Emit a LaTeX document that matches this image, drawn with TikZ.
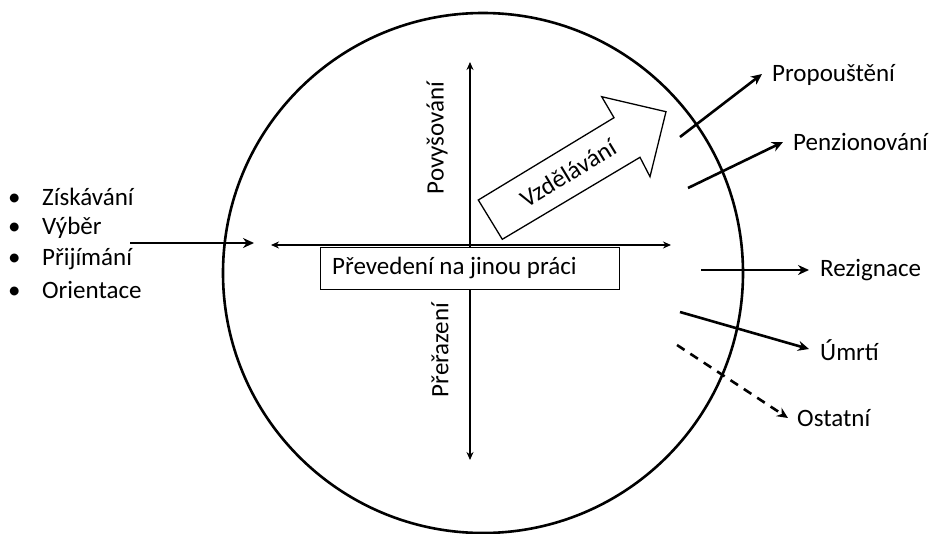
\documentclass[tikz,border=0pt]{standalone}
\usepackage{fontspec}
\setmainfont{Carlito}
\usetikzlibrary{arrows.meta}
\begin{document}
\begin{tikzpicture}[x=1pt,y=-1pt,
  txt/.style={inner sep=0pt,font=\fontsize{25}{27}\selectfont},
  lbl/.style={txt,anchor=west},
  thin/.style={line width=1.3pt,-{Stealth[length=8pt,width=7pt]}},
  thinboth/.style={line width=1.3pt,{Stealth[length=8pt,width=7pt]}-{Stealth[length=8pt,width=7pt]}},
  thick/.style={line width=2.6pt,-{Stealth[length=11pt,width=10pt]}},
  thickdash/.style={line width=2.6pt,dash pattern=on 9pt off 7pt,-{Stealth[length=11pt,width=10pt]}}]
\useasboundingbox (0,0) rectangle (932,533);
% circle
\draw[line width=2.6pt] (483,273) circle (260);
% axes
\coordinate (hl) at (271,245);
\coordinate (hr) at (671,245);
\coordinate (vt) at (470,62);
\coordinate (vb) at (470,460);
\coordinate (vc) at (470,245);
\draw[thinboth] (hl) -- (hr);
\draw[thin] (vc) -- (vt);
\draw[thin] (vc) -- (vb);
% box
\node[draw,line width=1pt,fill=white,minimum width=299pt,minimum height=42pt,inner sep=0pt] (box) at (469.5,268) {};
\node[lbl] (boxt) at (332,268) {Převedení na jinou práci};
% rotated labels
\node[txt,rotate=90] (pov) at (437,138) {Povyšování};
\node[txt,rotate=90] (pre) at (440,350) {Přeřazení};
% block arrow
\draw[line width=1.3pt,line join=miter] (478.3,200) -- (614,117.7) -- (601.7,96.7) -- (666,111.7) -- (650,176.7) -- (640,157.3) -- (502.3,239.3) -- cycle;
\node[txt,rotate=31.2] (vzd) at (568,173) {Vzdělávání};
% bullets
\node[lbl] (b1) at (8,197) {\makebox[34pt][l]{\textbullet}Získávání};
\node[lbl] (b2) at (8,228) {\makebox[34pt][l]{\textbullet}Výběr};
\node[lbl] (b3) at (8,259) {\makebox[34pt][l]{\textbullet}Přijímání};
\node[lbl] (b4) at (8,290) {\makebox[34pt][l]{\textbullet}Orientace};
\coordinate (in1) at (130,243);
\coordinate (in2) at (254,243);
\draw[thick] (in1) -- (in2);
% exits
\node[lbl] (p1) at (772,75) {Propouštění};
\node[lbl] (p2) at (793,142) {Penzionování};
\node[lbl] (p3) at (820,270) {Rezignace};
\node[lbl] (p4) at (820,350) {Úmrtí};
\node[lbl] (p5) at (797,418) {Ostatní};
\coordinate (s1) at (680,137); \coordinate (e1) at (762,74);
\coordinate (s2) at (688,188); \coordinate (e2) at (783,142);
\coordinate (s3) at (701,270); \coordinate (e3) at (809,270);
\coordinate (s4) at (680,312); \coordinate (e4) at (809,349);
\coordinate (s5) at (677,345); \coordinate (e5) at (788,418);
\draw[thick] (s1) -- (e1);
\draw[thick] (s2) -- (e2);
\draw[thick] (s3) -- (e3);
\draw[thick] (s4) -- (e4);
\draw[thickdash] (s5) -- (e5);
\end{tikzpicture}
\end{document}
